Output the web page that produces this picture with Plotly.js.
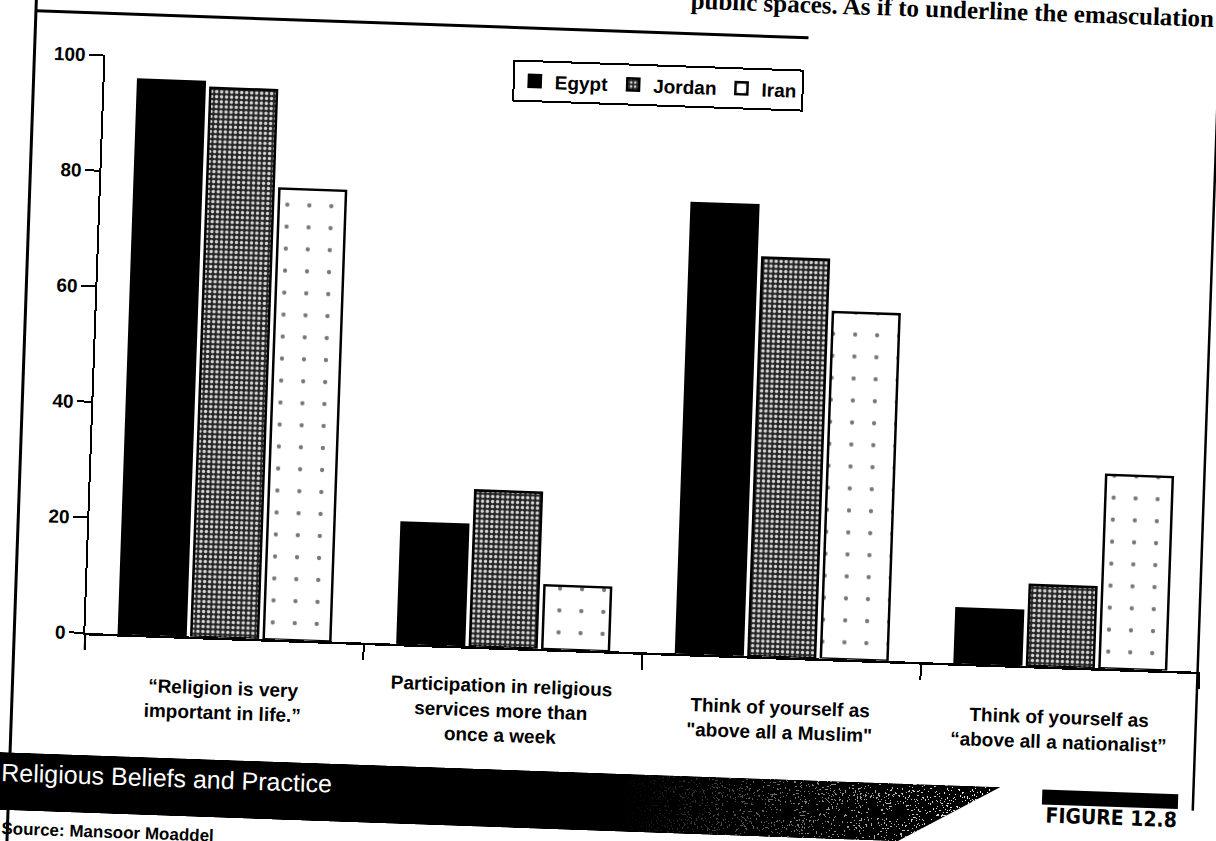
<!DOCTYPE html>
<html>
<head>
<meta charset="utf-8">
<script src="https://cdn.plot.ly/plotly-3.0.1.min.js"></script>
<style>
  html, body { margin: 0; padding: 0; width: 1216px; height: 841px; overflow: hidden; background: #fff; }
  /* the printed page sits slightly askew */
  #chart { position: absolute; left: -40px; top: -40px; width: 1296px; height: 921px;
           transform: rotate(2deg); transform-origin: 50% 50%; }
</style>
</head>
<body>
<div id="chart"></div>
<script>
// ---- data ----
const categories = [
  '“Religion is very<br>important in life.”',
  'Participation in religious<br>services more than<br>once a week',
  'Think of yourself as<br>"above all a Muslim"',
  'Think of yourself as<br>“above all a nationalist”'
];
const seriesNames = ['Egypt', 'Jordan', 'Iran'];
const egypt  = [96, 21, 78, 9.5];
const jordan = [95, 27, 69, 14];
const iran   = [78, 11, 60, 33.5];
const yTicks = [0, 20, 40, 60, 80, 100];

const figureTitle  = 'Religious Beliefs and Practice';
const figureNumber = 'FIGURE 12.8';
const sourceNote   = 'Source: Mansoor Moaddel';
const runningText  = 'public spaces. As if to underline the emasculation';

// ---- page geometry (pixels on the page, converted to paper fractions) ----
const PAD = 40, W = 1296, H = 921;
const fx = x => (x + PAD) / W;
const fy = y => 1 - (y + PAD) / H;

const FONT = 'Liberation Sans, Arial, sans-serif';

const barLine = { color: '#000', width: 2.5 };
const traces = [
  { type: 'bar', name: seriesNames[0], x: categories, y: egypt,
    marker: { color: '#000', line: barLine } },
  { type: 'bar', name: seriesNames[1], x: categories, y: jordan,
    marker: { color: '#2a2a2a', line: barLine,
      pattern: { shape: '.', fillmode: 'replace', bgcolor: '#262626', fgcolor: '#d8d8d8', size: 5, solidity: 0.35 } } },
  { type: 'bar', name: seriesNames[2], x: categories, y: iran,
    marker: { color: '#fff', line: barLine,
      pattern: { shape: '.', fillmode: 'replace', bgcolor: '#fff', fgcolor: '#777', size: 22, solidity: 0.03 } } }
];

// black banner with a speckled, pointed right end
const bandW = 1053, bandH = 58;
const bandSvg =
  `<svg xmlns='http://www.w3.org/2000/svg' width='${bandW}' height='${bandH}' viewBox='0 0 ${bandW} ${bandH}'>` +
  `<defs>` +
  `<linearGradient id='g' x1='0' x2='1' y1='0' y2='0'>` +
  `<stop offset='0.64' stop-color='#000'/><stop offset='1' stop-color='#fff'/></linearGradient>` +
  `<mask id='m'><rect width='${bandW}' height='${bandH}' fill='url(#g)'/></mask>` +
  `<clipPath id='c'><polygon points='0,0 ${bandW},0 952,${bandH} 0,${bandH}'/></clipPath>` +
  `<filter id='n' x='0' y='0' width='100%' height='100%'>` +
  `<feTurbulence type='fractalNoise' baseFrequency='0.6' numOctaves='2' seed='7'/>` +
  `<feColorMatrix type='matrix' values='0 0 0 0 1  0 0 0 0 1  0 0 0 0 1  1.4 0 0 0 -0.25'/>` +
  `<feComponentTransfer><feFuncA type='discrete' tableValues='0 0 0 1 1'/></feComponentTransfer>` +
  `</filter></defs>` +
  `<polygon points='0,0 ${bandW},0 952,${bandH} 0,${bandH}' fill='#000'/>` +
  `<g clip-path='url(#c)'><g mask='url(#m)'><rect width='${bandW}' height='${bandH}' filter='url(#n)'/></g></g>` +
  `</svg>`;

const line = (x0, y0, x1, y1, w) => ({
  type: 'line', xref: 'paper', yref: 'paper',
  x0: fx(x0), y0: fy(y0), x1: fx(x1), y1: fy(y1),
  line: { color: '#000', width: w }
});

const shapes = [
  line(22, -40, 22, 880, 3),        // left frame
  line(22, 31, 795, 31, 3),         // top frame
  line(1206, 45, 1206, 790, 2.5),   // right frame
  line(93, 651, 93, 668, 2),        // axis stub below zero
  { type: 'rect', xref: 'paper', yref: 'paper',
    x0: fx(1055), x1: fx(1191), y0: fy(789), y1: fy(774),
    fillcolor: '#000', line: { width: 0 } }
];

const annotations = categories.map(c => ({
  x: c, xref: 'x', y: fy(714), yref: 'paper', yanchor: 'middle',
  text: c, showarrow: false, align: 'center',
  font: { family: FONT, size: 19, weight: 'bold', color: '#000' }
}));
annotations.push(
  { x: fx(12), xref: 'paper', xanchor: 'left', y: fy(793), yref: 'paper', yanchor: 'middle',
    text: figureTitle, showarrow: false, font: { family: FONT, size: 25, color: '#fff' } },
  { x: fx(1124), xref: 'paper', xanchor: 'center', y: fy(800), yref: 'paper', yanchor: 'middle',
    text: figureNumber, showarrow: false,
    font: { family: 'DejaVu Sans Condensed, DejaVu Sans, sans-serif', size: 21, weight: 'bold', color: '#000' } },
  { x: fx(14), xref: 'paper', xanchor: 'left', y: fy(849), yref: 'paper', yanchor: 'middle',
    text: sourceNote, showarrow: false, font: { family: FONT, size: 17, weight: 'bold', color: '#000' } },
  { x: fx(1202), xref: 'paper', xanchor: 'right', y: fy(13), yref: 'paper', yanchor: 'bottom',
    text: runningText, showarrow: false,
    font: { family: 'Liberation Serif, Times New Roman, serif', size: 25, weight: 'bold', color: '#000' } }
);

const layout = {
  width: W, height: H, autosize: false,
  margin: { l: 0, r: 0, t: 0, b: 0, pad: 0 },
  paper_bgcolor: 'rgba(0,0,0,0)', plot_bgcolor: 'rgba(0,0,0,0)',
  barmode: 'group', bargap: 0.22, bargroupgap: 0.08,
  showlegend: true,
  legend: {
    orientation: 'h', xref: 'paper', yref: 'paper',
    x: fx(501), y: fy(63), xanchor: 'left', yanchor: 'top',
    bgcolor: '#fff', bordercolor: '#000', borderwidth: 2,
    font: { family: FONT, size: 19, weight: 'bold', color: '#000' },
    itemwidth: 30, traceorder: 'normal'
  },
  xaxis: {
    domain: [fx(93), fx(1208)], range: [-0.5, 3.5],
    type: 'category', showgrid: false, zeroline: false,
    showline: true, linecolor: '#000', linewidth: 2.5,
    ticks: 'outside', tickson: 'boundaries', ticklen: 15, tickwidth: 2, tickcolor: '#000',
    showticklabels: false, fixedrange: true
  },
  yaxis: {
    domain: [fy(651), fy(73)], range: [0, 100],
    showgrid: false, zeroline: false,
    showline: true, linecolor: '#000', linewidth: 2,
    ticks: 'outside', ticklen: 14, tickwidth: 2, tickcolor: '#000',
    tickvals: yTicks, ticktext: yTicks.map(String),
    tickfont: { family: FONT, size: 19, weight: 'bold', color: '#000' },
    fixedrange: true
  },
  shapes: shapes,
  annotations: annotations,
  images: [{
    source: 'data:image/svg+xml;charset=utf-8,' + encodeURIComponent(bandSvg),
    xref: 'paper', yref: 'paper', x: fx(-40), y: fy(773),
    sizex: bandW / W, sizey: bandH / H, sizing: 'stretch',
    xanchor: 'left', yanchor: 'top', layer: 'above'
  }]
};

Plotly.newPlot('chart', traces, layout, { displayModeBar: false, staticPlot: true });
</script>
</body>
</html>
